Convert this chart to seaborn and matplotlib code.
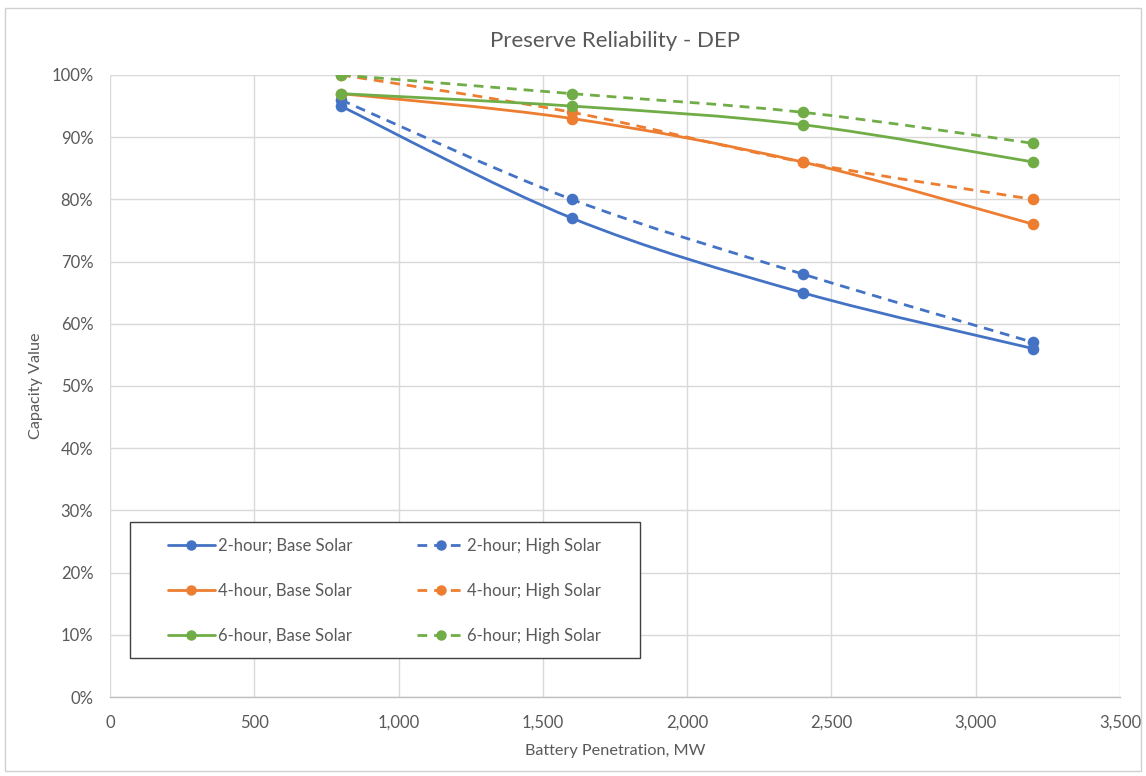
import matplotlib
matplotlib.use("Agg")
import numpy as np
import pandas as pd
import seaborn as sns
import matplotlib.pyplot as plt
from matplotlib.path import Path
from matplotlib.patches import PathPatch, Rectangle
from matplotlib.lines import Line2D
from matplotlib.ticker import FuncFormatter, MultipleLocator

# Battery penetration levels (MW) and capacity values (%)
penetration_mw = [800, 1600, 2400, 3200]
two_hour_base = [95, 77, 65, 56]
two_hour_high = [96, 80, 68, 57]
four_hour_base = [97, 93, 86, 76]
four_hour_high = [100, 94, 86, 80]
six_hour_base = [97, 95, 92, 86]
six_hour_high = [100, 97, 94, 89]

series_labels = [
    "2-hour; Base Solar", "2-hour; High Solar",
    "4-hour, Base Solar", "4-hour; High Solar",
    "6-hour, Base Solar", "6-hour; High Solar",
]
series_values = [two_hour_base, two_hour_high, four_hour_base,
                 four_hour_high, six_hour_base, six_hour_high]
series_colors = ["#4472C4", "#4472C4", "#ED7D31", "#ED7D31", "#70AD47", "#70AD47"]
series_dashed = [False, True, False, True, False, True]

TEXT = "#595959"

sns.set_style("white")
plt.rcParams["font.family"] = ["Lato", "DejaVu Sans"]

fig = plt.figure(figsize=(11.46, 7.76), dpi=100)
ax = fig.add_axes([0.096, 0.1018, 0.8813, 0.8016])

# outer chart border
fig.patches.append(Rectangle((0.004, 0.006), 0.992, 0.984, transform=fig.transFigure,
                             fill=False, edgecolor="#D0D0D0", linewidth=1.0))


def smooth_path(xs, ys, tension=6.0):
    """Bezier path through the points, like a spreadsheet 'smoothed line'."""
    pts = np.column_stack([xs, ys]).astype(float)
    verts = [pts[0]]
    codes = [Path.MOVETO]
    n = len(pts)
    for i in range(n - 1):
        p0 = pts[i - 1] if i > 0 else pts[i]
        p1 = pts[i]
        p2 = pts[i + 1]
        p3 = pts[i + 2] if i + 2 < n else pts[i + 1]
        c1 = p1 + (p2 - p0) / tension
        c2 = p2 - (p3 - p1) / tension
        verts += [c1, c2, p2]
        codes += [Path.CURVE4] * 3
    return Path(verts, codes)


rows = []
for label, vals in zip(series_labels, series_values):
    for x, v in zip(penetration_mw, vals):
        rows.append({"series": label, "mw": x, "value": v})
df = pd.DataFrame(rows)

handles = []
for k, (label, vals, col, dashed) in enumerate(
        zip(series_labels, series_values, series_colors, series_dashed)):
    ls = (0, (3.5, 2.5)) if dashed else "-"
    patch = PathPatch(smooth_path(penetration_mw, vals), fill=False, edgecolor=col,
                      linewidth=2.0, linestyle=ls, zorder=3 + k, capstyle="butt")
    ax.add_patch(patch)
    sub = df[df["series"] == label]
    sns.scatterplot(data=sub, x="mw", y="value", ax=ax, color=col, s=70,
                    edgecolor=col, linewidth=0, zorder=3.5 + k, legend=False)
    handles.append(Line2D([0], [0], color=col, linewidth=2.0, linestyle=ls,
                          marker="o", markersize=6.5, label=label))

ax.set_xlim(0, 3500)
ax.set_ylim(0, 100)
ax.xaxis.set_major_locator(MultipleLocator(500))
ax.yaxis.set_major_locator(MultipleLocator(10))
ax.xaxis.set_major_formatter(FuncFormatter(lambda v, p: f"{int(v):,}"))
ax.yaxis.set_major_formatter(FuncFormatter(lambda v, p: f"{int(v)}%"))
ax.grid(True, color="#D9D9D9", linewidth=1.0)
ax.set_axisbelow(True)
for side in ["top", "right", "left"]:
    ax.spines[side].set_visible(False)
ax.spines["bottom"].set_color("#BFBFBF")
ax.spines["bottom"].set_linewidth(1.0)
ax.tick_params(axis="both", length=0, labelsize=12, labelcolor=TEXT)
ax.tick_params(axis="y", pad=12)
ax.tick_params(axis="x", pad=13)

ax.set_title("Preserve Reliability - DEP", fontsize=16, color=TEXT, pad=20)
ax.set_xlabel("Battery Penetration, MW", fontsize=11.7, color=TEXT, labelpad=9)
ax.set_ylabel("Capacity Value", fontsize=11.7, color=TEXT, labelpad=6)

# legend frame drawn as its own box, entries placed inside it
ax.add_patch(Rectangle((0.0198, 0.0627), 0.505, 0.2186, transform=ax.transAxes,
                       fill=True, facecolor="white", edgecolor="#404040",
                       linewidth=1.0, zorder=19))
order = [0, 2, 4, 1, 3, 5]
leg = ax.legend([handles[i] for i in order], [series_labels[i] for i in order],
                ncol=2, loc="upper left", bbox_to_anchor=(0.0574, 0.2556),
                fontsize=12, frameon=False, handlelength=2.8,
                labelspacing=1.74, columnspacing=3.9, borderpad=0,
                handletextpad=0.2, borderaxespad=0)
for t in leg.get_texts():
    t.set_color(TEXT)
leg.set_zorder(20)

fig.savefig("out.png", dpi=100, facecolor="white")
